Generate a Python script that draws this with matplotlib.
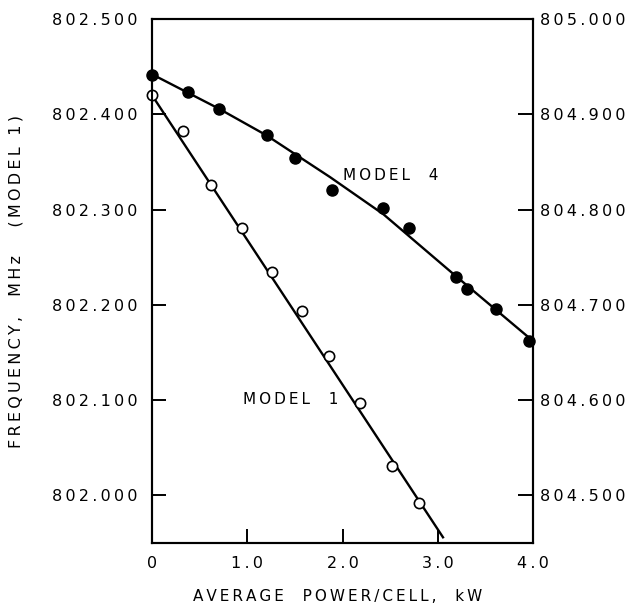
import matplotlib
matplotlib.use("Agg")
import matplotlib.pyplot as plt
from matplotlib.ticker import FixedLocator, FuncFormatter

# Model 1 (open circles, left axis)
m1_power = [0.0, 0.325, 0.62, 0.945, 1.265, 1.575, 1.86, 2.18, 2.52, 2.80]
m1_freq = [802.420, 802.382, 802.326, 802.281, 802.234, 802.193, 802.146, 802.097, 802.031, 801.992]
m1_fit_power = [0.0, 3.055]
m1_fit_freq = [802.420, 801.956]

# Model 4 (filled circles, right axis)
m4_power = [0.0, 0.378, 0.703, 1.204, 1.501, 1.887, 2.428, 2.698, 3.188, 3.304, 3.608, 3.961]
m4_freq = [804.941, 804.923, 804.906, 804.878, 804.854, 804.821, 804.802, 804.781, 804.729, 804.717, 804.696, 804.662]
m4_fit_power = [0.0, 0.7, 1.2, 1.87, 2.43, 3.18, 4.0]
m4_fit_freq = [804.942, 804.906, 804.878, 804.834, 804.795, 804.731, 804.662]

x_ticks = [0, 1, 2, 3, 4]
x_ticklabels = ["0", "1.0", "2.0", "3.0", "4.0"]
left_ticks = [802.0, 802.1, 802.2, 802.3, 802.4, 802.5]
right_ticks = [804.5, 804.6, 804.7, 804.8, 804.9, 805.0]

TS = "\u2009"


def spaced(s):
    # wide letter spacing like the old plotter lettering
    return TS.join(s)


def freq_fmt(v, pos):
    txt = f"{v:.3f}"
    a, b = txt.split(".")
    return spaced(a) + TS + "." + TS + spaced(b)


plt.rcParams["font.family"] = ["DejaVu Sans"]

fig = plt.figure(figsize=(6.33, 6.12), dpi=100)
ax = fig.add_axes([152 / 633, 69 / 612, 381 / 633, 524 / 612])
ax2 = ax.twinx()

ax.plot(m1_fit_power, m1_fit_freq, color="black", lw=1.7, zorder=2)
ax.plot(m1_power, m1_freq, "o", ms=7.4, mfc="white", mec="black", mew=1.2, zorder=3, clip_on=False)

ax2.plot(m4_fit_power, m4_fit_freq, color="black", lw=1.7, zorder=2)
ax2.plot(m4_power, m4_freq, "o", ms=8, mfc="black", mec="black", zorder=3, clip_on=False)

ax.set_xlim(0, 4)
ax.set_ylim(801.95, 802.5)
ax2.set_ylim(804.45, 805.0)

ax.xaxis.set_major_locator(FixedLocator(x_ticks))
ax.set_xticklabels([spaced(t) for t in x_ticklabels])
ax.yaxis.set_major_locator(FixedLocator(left_ticks))
ax.yaxis.set_major_formatter(FuncFormatter(freq_fmt))
ax2.yaxis.set_major_locator(FixedLocator(right_ticks))
ax2.yaxis.set_major_formatter(FuncFormatter(freq_fmt))

ax.tick_params(axis="x", direction="in", length=10, width=1.4, pad=9, labelsize=11.5)
ax.tick_params(axis="y", direction="in", length=10, width=1.4, pad=10.5, labelsize=11.5)
ax2.tick_params(axis="y", direction="in", length=11, width=1.4, pad=5, labelsize=11.5)

for a in (ax, ax2):
    for sp in a.spines.values():
        sp.set_linewidth(1.5)

ax.set_xlabel(spaced("AVERAGE  POWER/CELL,  kW"), fontsize=11)
ax.xaxis.set_label_coords(0.486, -0.088)
ax.set_ylabel(spaced("FREQUENCY,  MHz   (MODEL 1)"), fontsize=11.5)
ax.yaxis.label.set_va("center")
ax.yaxis.set_label_coords(-0.358, 0.5)

ax.text(2.005, 802.336, spaced("MODEL  4"), fontsize=11, ha="left", va="center")
ax.text(0.955, 802.101, spaced("MODEL  1"), fontsize=11, ha="left", va="center")

fig.savefig("out.png", dpi=100)
